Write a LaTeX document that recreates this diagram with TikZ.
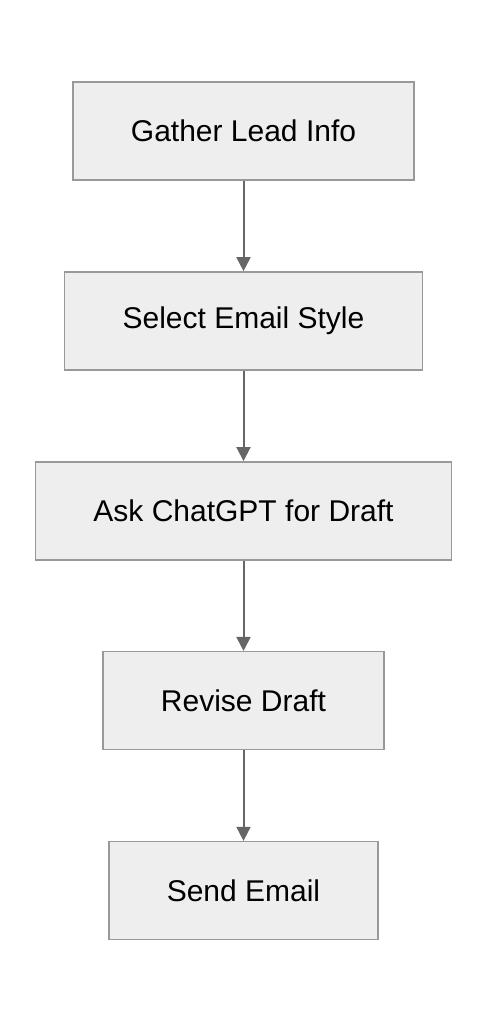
\documentclass[tikz,border=0pt]{standalone}
\usepackage{fontspec}
\setmainfont{Liberation Sans}
\usepackage{tikz}
\usetikzlibrary{positioning,arrows.meta}
\definecolor{colorbox}    {RGB}{238,238,238}
\definecolor{colorborder} {RGB}{153,153,153}
\definecolor{colorarrow}  {RGB}{102,102,102}
\definecolor{colortext}   {RGB}{0  ,0  ,0  }

\begin{document}
\begin{tikzpicture}[
    node distance = 45.2pt, auto,
    font={\fontsize{15pt}{17pt}\selectfont},
    base/.style={text=colortext,fill=colorbox,draw=colorborder,line width=0.75pt,
                 inner xsep=29pt,minimum height=49pt,align=center,rectangle},
    flow/.style={-{Triangle[length=7pt,width=7pt]},draw=colorarrow,fill=colorarrow,line width=1pt},
]

    % Bounding box
    \useasboundingbox (0,0) rectangle (244pt,-510pt);

    % Nodes
    \node[base] (gather) at (121.75pt,-65.5pt) {Gather Lead Info};
    \node[base,below=of gather] (select) {Select Email Style};
    \node[base,below=of select] (ask)    {Ask ChatGPT for Draft};
    \node[base,below=of ask]    (revise) {Revise Draft};
    \node[base,below=of revise] (send)   {Send Email};

    % Arrows
    \draw[flow](gather) -- (select);
    \draw[flow](select) -- (ask);
    \draw[flow](ask)    -- (revise);
    \draw[flow](revise) -- (send);

\end{tikzpicture}
\end{document}
